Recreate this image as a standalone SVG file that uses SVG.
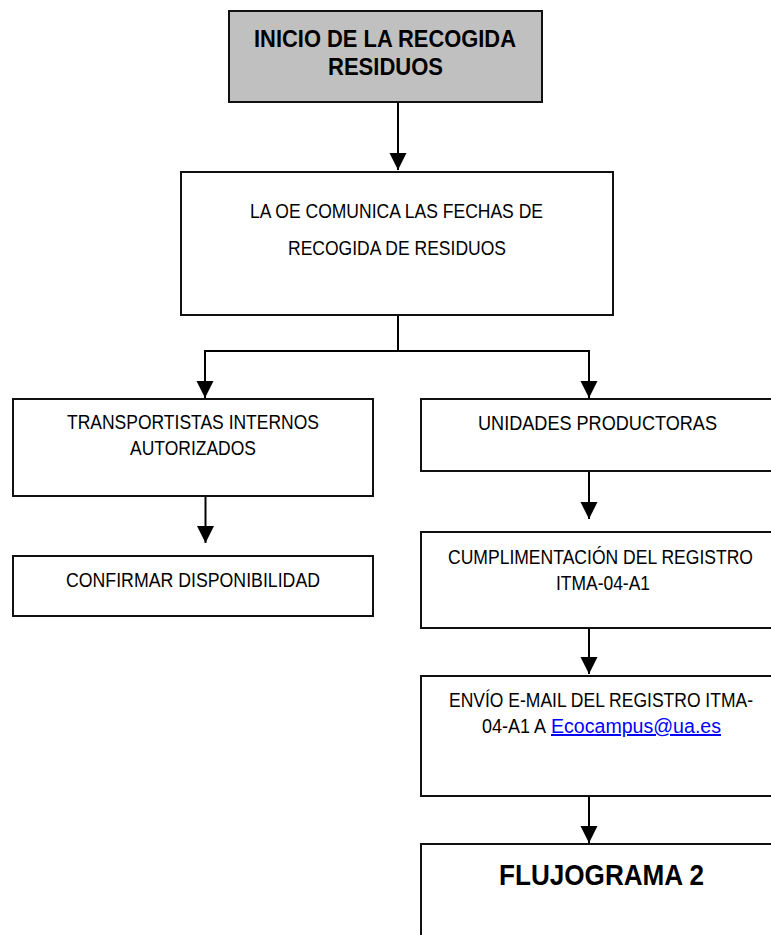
<svg xmlns="http://www.w3.org/2000/svg" width="771" height="935" viewBox="0 0 771 935">
<defs>
<marker id="ah" markerUnits="userSpaceOnUse" markerWidth="18" markerHeight="18" refX="17" refY="8.5" orient="auto">
<path d="M0,0 L17,8.5 L0,17 Z" fill="#000"/>
</marker>
<style>
.box{fill:#fff;stroke:#111;stroke-width:2}
.start{fill:#c0c0c0;stroke:#111;stroke-width:2}
.t{font-family:"Liberation Sans",Arial,sans-serif;font-size:20px;fill:#000}
.b{font-family:"Liberation Sans",Arial,sans-serif;font-weight:bold;fill:#000}
.c{fill:none;stroke:#000;stroke-width:2}
.link{fill:#0000ff;text-decoration:underline}
</style>
</defs>
<rect width="771" height="935" fill="#fff"/>
<g id="connectors">
<path class="c" d="M398,102 V170" marker-end="url(#ah)"/>
<path class="c" d="M398,315 V351 H205 V398" marker-end="url(#ah)"/>
<path class="c" d="M398,351 H589 V398" marker-end="url(#ah)"/>
<path class="c" d="M205.5,496 V543" marker-end="url(#ah)"/>
<path class="c" d="M589,471 V519" marker-end="url(#ah)"/>
<path class="c" d="M589,628 V674" marker-end="url(#ah)"/>
<path class="c" d="M589,796 V843" marker-end="url(#ah)"/>
</g>
<g id="inicio">
<rect class="start" x="229" y="11" width="313" height="91"/>
<text class="b" font-size="24" x="254" y="46.5" textLength="262" lengthAdjust="spacingAndGlyphs">INICIO DE LA RECOGIDA</text>
<text class="b" font-size="24" x="328" y="75" textLength="115" lengthAdjust="spacingAndGlyphs">RESIDUOS</text>
</g>
<g id="comunica">
<rect class="box" x="181" y="172" width="432" height="143"/>
<text class="t" font-size="21" x="250" y="218" textLength="293" lengthAdjust="spacingAndGlyphs">LA OE COMUNICA LAS FECHAS DE</text>
<text class="t" font-size="21" x="288" y="255" textLength="218" lengthAdjust="spacingAndGlyphs">RECOGIDA DE RESIDUOS</text>
</g>
<g id="transportistas">
<rect class="box" x="13" y="399" width="360" height="97"/>
<text class="t" x="67" y="429" textLength="252" lengthAdjust="spacingAndGlyphs">TRANSPORTISTAS INTERNOS</text>
<text class="t" x="130" y="455" textLength="126" lengthAdjust="spacingAndGlyphs">AUTORIZADOS</text>
</g>
<g id="confirmar">
<rect class="box" x="13" y="556" width="360" height="60"/>
<text class="t" x="66" y="586.5" textLength="254" lengthAdjust="spacingAndGlyphs">CONFIRMAR  DISPONIBILIDAD</text>
</g>
<g id="unidades">
<rect class="box" x="421" y="399" width="360" height="72"/>
<text class="t" x="478" y="430" textLength="239" lengthAdjust="spacingAndGlyphs">UNIDADES PRODUCTORAS</text>
</g>
<g id="cumplimentacion">
<rect class="box" x="421" y="532" width="360" height="96"/>
<text class="t" x="448" y="564" textLength="305" lengthAdjust="spacingAndGlyphs">CUMPLIMENTACIÓN DEL REGISTRO</text>
<text class="t" x="556" y="590" textLength="94" lengthAdjust="spacingAndGlyphs">ITMA-04-A1</text>
</g>
<g id="envio">
<rect class="box" x="421" y="676" width="360" height="120"/>
<text class="t" x="449" y="706.5" textLength="304" lengthAdjust="spacingAndGlyphs">ENVÍO E-MAIL DEL REGISTRO ITMA-</text>
<text class="t" x="482" y="733" textLength="64" lengthAdjust="spacingAndGlyphs">04-A1 A</text>
<text class="t link" x="551" y="733" textLength="170" lengthAdjust="spacingAndGlyphs">Ecocampus@ua.es</text>
</g>
<g id="flujograma2">
<rect class="box" x="421" y="844" width="360" height="110"/>
<text class="b" font-size="30" x="499" y="885" textLength="205" lengthAdjust="spacingAndGlyphs">FLUJOGRAMA 2</text>
</g>
</svg>
